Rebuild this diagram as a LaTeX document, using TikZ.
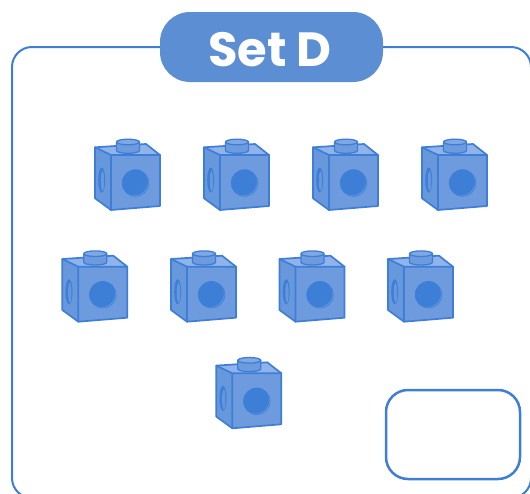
\documentclass[tikz,border=0pt]{standalone}
\usepackage{fontspec}
\newfontfamily\titlefont{Poppins}
\definecolor{framecol}{HTML}{3E7FD5}
\definecolor{pillcol}{HTML}{5C8ED4}
\definecolor{frontcol}{HTML}{6E9BDE}
\definecolor{topcol}{HTML}{8FB3EA}
\definecolor{sidecol}{HTML}{6898DC}
\definecolor{edgecol}{HTML}{3F7ED6}
\definecolor{holecol}{HTML}{3D7ED6}
\definecolor{holelight}{HTML}{6597DE}
\definecolor{studtop}{HTML}{80A8E5}
\tikzset{
  edge/.style={draw=edgecol, line width=1.7pt, line join=round, line cap=round},
  cube/.pic={
    % faces
    \fill[sidecol] (0,0) -- (-16,-7.7) -- (-16,43.3) -- (0,55) -- cycle;
    \fill[topcol] (0,0) -- (-16,-7.7) -- (35,-11) -- (49,0) -- cycle;
    \fill[frontcol] (0,0) -- (49,0) -- (49,51) -- (0,55) -- cycle;
    % side hole
    \fill[holecol] (-9.3,25) ellipse (3.5 and 12.5);
    \fill[holelight] (-8.5,26) ellipse (1.7 and 10);
    % front hole
    \begin{scope}
      \clip (24.5,28) circle (13.3);
      \fill[holelight] (24.5,28) circle (13.3);
      \fill[holecol] (23.5,27) circle (13.3);
    \end{scope}
    \draw[holecol, line width=0.6pt] (24.5,28) circle (13.3);
    % edges
    \path[edge] (-16,-7.7) -- (35,-11) -- (49,0) -- (49,51) -- (0,55) -- (-16,43.3) -- cycle;
    \path[edge] (-16,-7.7) -- (0,0) -- (49,0) (0,0) -- (0,55);
    % stud
    \fill[frontcol] (17,-4.5) ellipse (11.5 and 2.8);
    \fill[frontcol] (5.5,-13) rectangle (28.5,-4.5);
    \fill[studtop] (17,-13) ellipse (11.5 and 2.8);
    \path[edge, line width=1.3pt] (17,-13) ellipse (11.5 and 2.8);
    \path[edge, line width=1.3pt] (5.5,-13) -- (5.5,-4.5) arc[start angle=180, end angle=0, x radius=11.5, y radius=2.8] -- (28.5,-13);
  }
}
\begin{document}
\begin{tikzpicture}[x=1pt,y=-1pt]
\useasboundingbox (0,0) rectangle (530,493);
% outer frame
\draw[framecol, line width=2pt, rounded corners=20pt] (12,47) rectangle (531,498);
% title pill
\fill[pillcol, rounded corners=30pt] (160,12) rectangle (383,82);
\node[text=white, font=\titlefont\bfseries\fontsize{48}{48}\selectfont, anchor=base] (title) at (270,66) {Set D};
% answer box
\draw[framecol, line width=2.5pt, rounded corners=22pt] (386,390) rectangle (520,479);
% cubes
\foreach \x in {111,220,329,438} \pic at (\x,155) {cube};
\foreach \x in {78.3,187,295.5,404} \pic at (\x,266.7) {cube};
\pic at (232.3,373.3) {cube};
\end{tikzpicture}
\end{document}
